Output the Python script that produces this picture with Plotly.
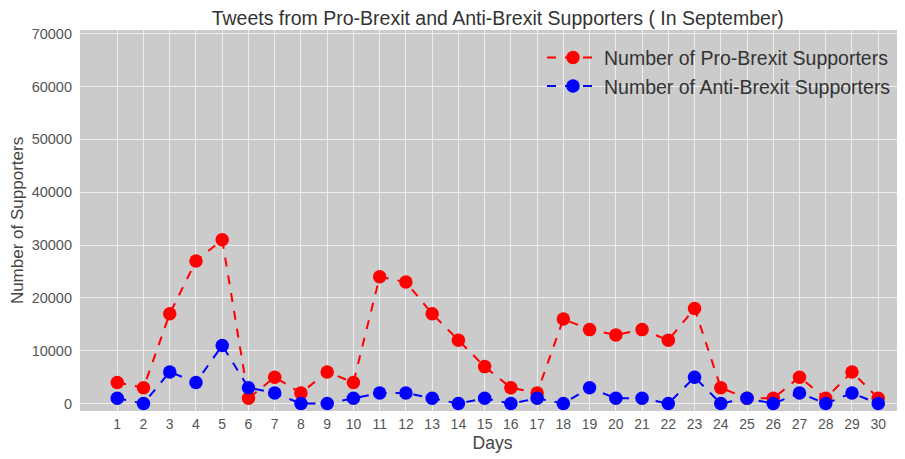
import plotly.graph_objects as go

days = list(range(1, 31))
pro_brexit = [4000, 3000, 17000, 27000, 31000, 1000, 5000, 2000, 6000, 4000,
              24000, 23000, 17000, 12000, 7000, 3000, 2000, 16000, 14000, 13000,
              14000, 12000, 18000, 3000, 1000, 1000, 5000, 1000, 6000, 1000]
anti_brexit = [1000, 0, 6000, 4000, 11000, 3000, 2000, 0, 0, 1000,
               2000, 2000, 1000, 0, 1000, 0, 1000, 0, 3000, 1000,
               1000, 0, 5000, 0, 1000, 0, 2000, 0, 2000, 0]
y_ticks = [0, 10000, 20000, 30000, 40000, 50000, 60000, 70000]

fig = go.Figure()
fig.add_trace(go.Scatter(
    x=days, y=pro_brexit, mode="lines+markers",
    name="Number of Pro-Brexit Supporters",
    line=dict(color="red", dash="dash", width=2),
    marker=dict(color="red", size=13.5),
))
fig.add_trace(go.Scatter(
    x=days, y=anti_brexit, mode="lines+markers",
    name="Number of Anti-Brexit Supporters",
    line=dict(color="blue", dash="dash", width=2),
    marker=dict(color="blue", size=13.5),
))

fig.update_layout(
    width=897, height=451,
    margin=dict(l=72, r=0, t=22, b=48),
    paper_bgcolor="white",
    plot_bgcolor="#cbcbcb",
    font=dict(family="Liberation Sans, Arial, sans-serif", color="#555555"),
    title=dict(text="Tweets from Pro-Brexit and Anti-Brexit Supporters ( In September)",
               x=0.546, xanchor="center", y=0.992, yanchor="top",
               font=dict(size=19.5, color="#333333")),
    showlegend=True,
    legend=dict(x=0.56, y=0.978, xanchor="left", yanchor="top",
                bgcolor="rgba(0,0,0,0)", font=dict(size=19.5, color="#333333"),
                itemwidth=52),
    xaxis=dict(range=[-0.42, 31.02], tickmode="array", tickvals=days,
               ticktext=[str(d) for d in days], showgrid=True, gridcolor="#eeeeee",
               gridwidth=1, zeroline=False, showline=False, automargin=False,
               ticklabelstandoff=3,
               tickfont=dict(size=14, color="#555555"),
               title=dict(text="Days", font=dict(size=17.5, color="#444444"), standoff=5)),
    yaxis=dict(range=[-1400, 70700], tickmode="array", tickvals=y_ticks,
               ticktext=[str(v) for v in y_ticks], showgrid=True, gridcolor="#eeeeee",
               gridwidth=1, zeroline=False, showline=False, automargin=False,
               ticklabelstandoff=7,
               tickfont=dict(size=14.5, color="#555555"),
               title=dict(text="Number of Supporters", font=dict(size=17, color="#444444"), standoff=11)),
)

fig.write_html("out.html")
